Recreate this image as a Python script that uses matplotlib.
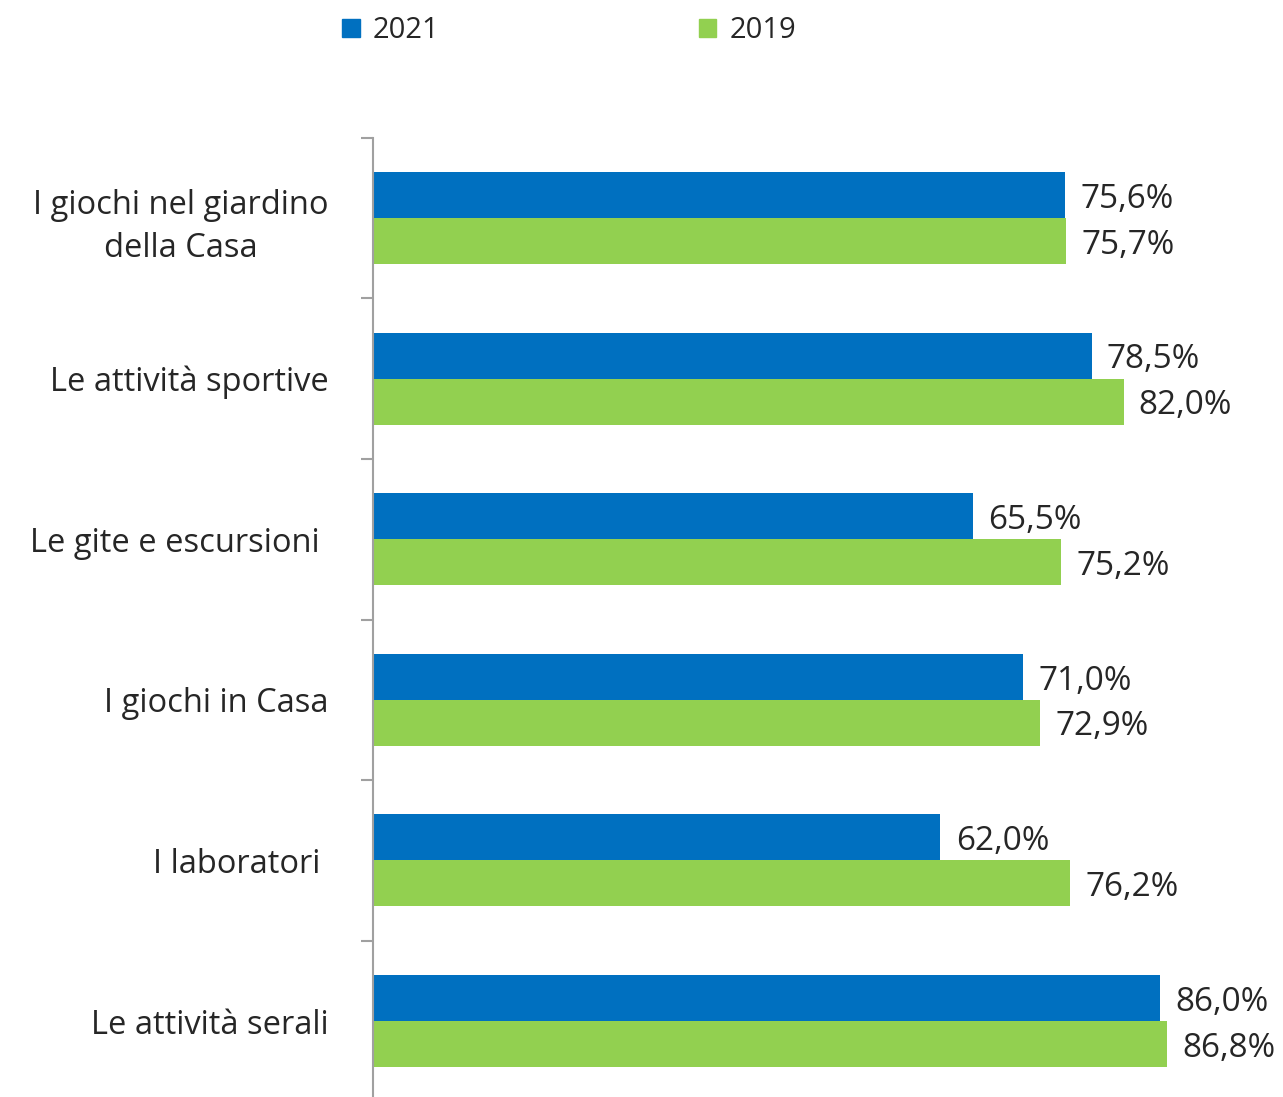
import matplotlib
matplotlib.use("Agg")
import matplotlib.pyplot as plt
import matplotlib.patches as mpatches
import numpy as np

categories = ["I giochi nel giardino\ndella Casa", "Le attività sportive",
              "Le gite e escursioni ", "I giochi in Casa",
              "I laboratori ", "Le attività serali"]
values_2021 = [75.6, 78.5, 65.5, 71.0, 62.0, 86.0]
values_2019 = [75.7, 82.0, 75.2, 72.9, 76.2, 86.8]
series_names = ["2021", "2019"]

blue = "#0070C0"
green = "#92D050"
txt = "#262626"

W, H = 1283, 1097
fig = plt.figure(figsize=(W / 100, H / 100), dpi=100)
ax = fig.add_axes([373 / W, (H - 1101.3) / H, 910 / W, 963.6 / H])

y = np.arange(len(categories))
h = 0.286
ax.barh(y - h / 2, values_2021, height=h, color=blue, zorder=2)
ax.barh(y + h / 2, values_2019, height=h, color=green, zorder=2)

for yi, v in zip(y - h / 2, values_2021):
    ax.annotate(f"{v:.1f}%".replace(".", ","), (v, yi), xytext=(11, -3),
                textcoords="offset points", va="center", ha="left",
                fontsize=24, color=txt, family="Open Sans")
for yi, v in zip(y + h / 2, values_2019):
    ax.annotate(f"{v:.1f}%".replace(".", ","), (v, yi), xytext=(11, -3),
                textcoords="offset points", va="center", ha="left",
                fontsize=24, color=txt, family="Open Sans")

ax.set_xlim(0, 910 / 9.153)
ax.set_ylim(len(categories) - 0.5, -0.5)

# boundary ticks on the spine, labels in the middle
ax.set_yticks(np.arange(-0.5, len(categories), 1.0))
ax.set_yticklabels([])
ax.set_yticks(y, minor=True)
ax.set_yticklabels(categories, minor=True, fontsize=23.5, color=txt,
                   family="Open Sans", multialignment="center", linespacing=1.4)
ax.tick_params(axis="y", which="major", length=9, width=1.5, color="#A0A0A0")
ax.tick_params(axis="y", which="minor", length=0, pad=32)

for s in ["top", "right", "bottom"]:
    ax.spines[s].set_visible(False)
ax.spines["left"].set_color("#A0A0A0")
ax.spines["left"].set_linewidth(1.5)
ax.xaxis.set_visible(False)

handles = [mpatches.Patch(color=blue), mpatches.Patch(color=green)]
fig.legend(handles, series_names, ncol=2, loc="center left",
           bbox_to_anchor=(342 / W, 1 - 31 / H), frameon=False,
           prop={"family": "Open Sans", "size": 21}, labelcolor=txt,
           handlelength=0.6, handleheight=0.6, handletextpad=0.45,
           columnspacing=8.9, borderpad=0, borderaxespad=0)

fig.savefig("out.png", dpi=100)
